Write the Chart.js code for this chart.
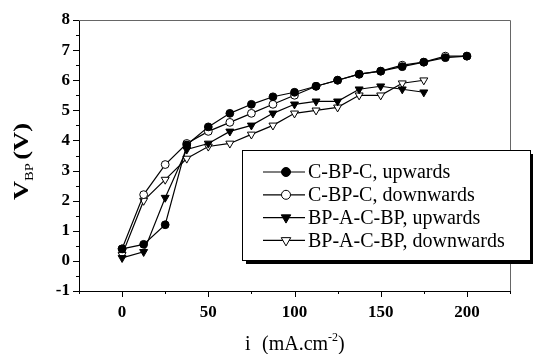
<!DOCTYPE html>
<html>
<head>
<meta charset="utf-8">
<script src="https://cdn.jsdelivr.net/npm/chart.js@4.4.1/dist/chart.umd.min.js"></script>
<style>
  html, body { margin: 0; padding: 0; background: #fff; }
  #wrap { width: 533px; height: 354px; }
</style>
</head>
<body>
<div id="wrap"><canvas id="chart" width="533" height="354"></canvas></div>
<script>
// current density (mA.cm-2)
const currents = [0, 12.5, 25, 37.5, 50, 62.5, 75, 87.5, 100, 112.5, 125, 137.5, 150, 162.5, 175, 187.5, 200];

// V_BP (V)
const cbpcUp    = [0.4, 0.55, 1.2, 3.85, 4.45, 4.9, 5.2, 5.45, 5.6, 5.8, 6.0, 6.2, 6.3, 6.45, 6.6, 6.75, 6.8];
const cbpcDown  = [0.4, 2.2, 3.2, 3.9, 4.3, 4.6, 4.9, 5.2, 5.5, 5.8, 6.0, 6.2, 6.3, 6.5, 6.6, 6.8, 6.8];
const bpacUp    = [0.1, 0.3, 2.1, 3.7, 3.9, 4.3, 4.5, 4.9, 5.2, 5.3, 5.3, 5.7, 5.8, 5.7, 5.6];
const bpacDown  = [0.2, 2.0, 2.7, 3.4, 3.8, 3.9, 4.2, 4.5, 4.9, 5.0, 5.1, 5.5, 5.5, 5.9, 6.0];

const labels = ['C-BP-C, upwards', 'C-BP-C, downwards', 'BP-A-C-BP, upwards', 'BP-A-C-BP, downwards'];

const toPoints = (ys) => ys.map((y, i) => ({ x: currents[i], y: y }));

const serif = "'Liberation Serif', 'Times New Roman', serif";

const makeSet = (label, ys, style, filled) => ({
    label: label,
    data: toPoints(ys),
    borderColor: '#000',
    borderWidth: 1.2,
    backgroundColor: filled ? '#000' : '#fff',
    pointStyle: style === 'tri' ? 'triangle' : 'circle',
    rotation: style === 'tri' ? 180 : 0,
    pointRadius: style === 'tri' ? 4.6 : 3.9,
    pointBorderWidth: 1,
    pointBorderColor: '#000',
    pointBackgroundColor: filled ? '#000' : '#fff',
    showLine: true,
    tension: 0
});

// ticks (major + minor), frame and axis titles
const axisDeco = {
    id: 'axisDeco',
    afterDraw(chart) {
        const ctx = chart.ctx;
        const xs = chart.scales.x, ys = chart.scales.y;
        const a = chart.chartArea;
        ctx.save();
        ctx.strokeStyle = '#666';
        ctx.lineWidth = 1;
        ctx.beginPath();
        ctx.moveTo(a.left, a.top + 0.5);
        ctx.lineTo(a.right + 0.5, a.top + 0.5);
        ctx.lineTo(a.right + 0.5, a.bottom);
        ctx.stroke();
        ctx.strokeStyle = '#000';
        ctx.beginPath();
        for (let v = -1; v <= 8.001; v += 0.5) {
            const py = Math.round(ys.getPixelForValue(v)) + 0.5;
            const len = Number.isInteger(v) ? 6 : 3;
            ctx.moveTo(a.left, py);
            ctx.lineTo(a.left - len, py);
        }
        for (let v = -25; v <= 225; v += 25) {
            const px = Math.round(xs.getPixelForValue(v)) + 0.5;
            const len = v % 50 === 0 ? 6 : 3;
            ctx.moveTo(px, a.bottom);
            ctx.lineTo(px, a.bottom + len);
        }
        ctx.stroke();

        // y title, with subscript
        ctx.fillStyle = '#000';
        ctx.translate(28, 200);
        ctx.rotate(-Math.PI / 2);
        ctx.scale(1.2, 1);
        ctx.textBaseline = 'alphabetic';
        ctx.textAlign = 'left';
        ctx.font = 'bold 22px ' + serif;
        ctx.fillText('V', 0, 0);
        let w = ctx.measureText('V').width;
        ctx.font = '12px ' + serif;
        ctx.fillText('BP', w, 5);
        w += ctx.measureText('BP').width + 3;
        ctx.font = 'bold 22px ' + serif;
        ctx.fillText('(V)', w, 0);
        ctx.restore();

        // x title, with superscript
        ctx.save();
        ctx.fillStyle = '#000';
        ctx.textBaseline = 'alphabetic';
        ctx.font = '20px ' + serif;
        ctx.fillText('i', 245, 350);
        ctx.fillText('(mA.cm', 262, 350);
        let x = 262 + ctx.measureText('(mA.cm').width;
        ctx.font = '12px ' + serif;
        ctx.fillText('-2', x, 341);
        x += ctx.measureText('-2').width;
        ctx.font = '20px ' + serif;
        ctx.fillText(')', x, 350);
        ctx.restore();
    }
};

// boxed legend with drop shadow
const legendBox = {
    id: 'legendBox',
    afterDraw(chart) {
        const ctx = chart.ctx;
        const bx = 242, by = 150, bw = 288, bh = 110;
        ctx.save();
        ctx.fillStyle = '#000';
        ctx.fillRect(bx + 4, by + 4, bw, bh);
        ctx.fillStyle = '#fff';
        ctx.fillRect(bx, by, bw, bh);
        ctx.strokeStyle = '#000';
        ctx.lineWidth = 1;
        ctx.strokeRect(bx + 0.5, by + 0.5, bw, bh);
        ctx.font = '20px ' + serif;
        ctx.textBaseline = 'middle';
        chart.data.datasets.forEach((ds, i) => {
            const y = 172 + i * 22.8;
            ctx.strokeStyle = '#000';
            ctx.lineWidth = 1.2;
            ctx.beginPath();
            ctx.moveTo(263, y);
            ctx.lineTo(305, y);
            ctx.stroke();
            ctx.fillStyle = ds.pointBackgroundColor;
            ctx.lineWidth = 1;
            Chart.helpers.drawPoint(ctx, {
                pointStyle: ds.pointStyle,
                rotation: ds.rotation,
                radius: ds.pointStyle === 'triangle' ? 5.5 : 4.5,
                borderWidth: 1
            }, 286, y);
            ctx.fillStyle = '#000';
            ctx.fillText(ds.label, 308, y + 1);
        });
        ctx.restore();
    }
};

new Chart(document.getElementById('chart'), {
    type: 'scatter',
    data: {
        datasets: [
            makeSet(labels[0], cbpcUp, 'circle', true),
            makeSet(labels[1], cbpcDown, 'circle', false),
            makeSet(labels[2], bpacUp, 'tri', true),
            makeSet(labels[3], bpacDown, 'tri', false)
        ]
    },
    options: {
        responsive: false,
        animation: false,
        layout: { padding: { left: 0, top: 20, right: 23, bottom: 0 } },
        plugins: {
            legend: { display: false },
            tooltip: { enabled: false }
        },
        scales: {
            x: {
                type: 'linear',
                min: -25,
                max: 225,
                afterFit: (s) => { s.height = 63; },
                grid: { display: false, drawTicks: false },
                border: { display: true, color: '#000', width: 1 },
                ticks: {
                    stepSize: 25,
                    autoSkip: false,
                    maxRotation: 0,
                    padding: 11,
                    color: '#000',
                    font: { family: serif, size: 17, weight: 'bold' },
                    callback: (v) => (v % 50 === 0 && v >= 0 && v <= 200 ? v : '')
                }
            },
            y: {
                min: -1,
                max: 8,
                afterFit: (s) => { s.width = 79; },
                grid: { display: false, drawTicks: false },
                border: { display: true, color: '#000', width: 1 },
                ticks: {
                    stepSize: 0.5,
                    autoSkip: false,
                    padding: 9,
                    color: '#000',
                    font: { family: serif, size: 17, weight: 'bold' },
                    callback: (v) => (Number.isInteger(v) ? v : '')
                }
            }
        }
    },
    plugins: [axisDeco, legendBox]
});
</script>
</body>
</html>
